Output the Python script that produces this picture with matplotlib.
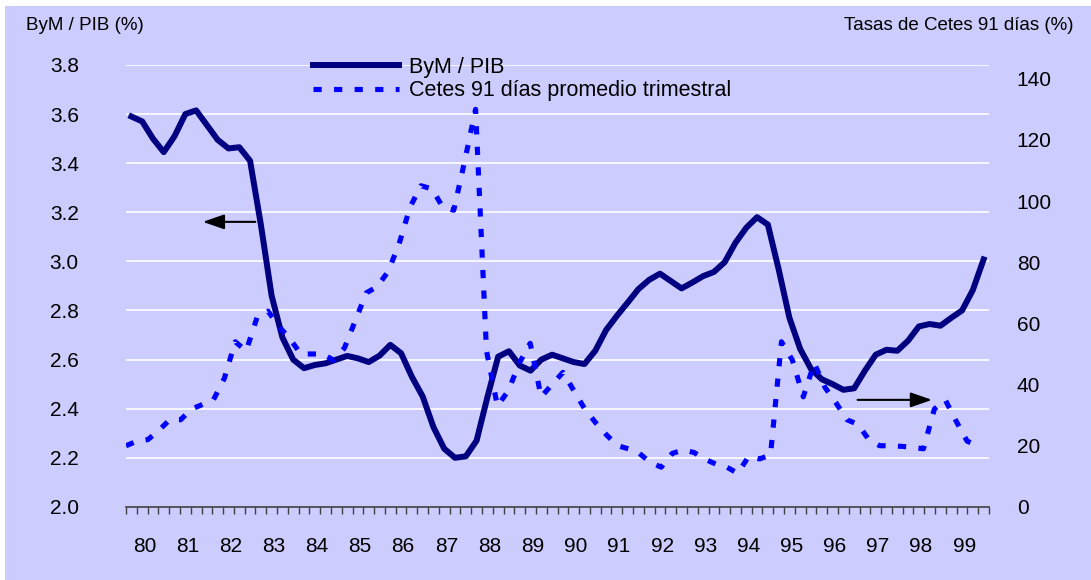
import matplotlib
matplotlib.use("Agg")
import matplotlib.pyplot as plt
from matplotlib.patches import Rectangle
import numpy as np

plt.rcParams['font.family'] = ['Liberation Sans', 'DejaVu Sans']

# trimestral 1980-I .. 1999-IV
bym_pib = [3.59, 3.57, 3.50, 3.445, 3.51, 3.60, 3.615, 3.555, 3.495, 3.46,
           3.465, 3.41, 3.15, 2.86, 2.69, 2.60, 2.565, 2.578, 2.585, 2.60,
           2.615, 2.605, 2.59, 2.616, 2.66, 2.626, 2.53, 2.45, 2.325, 2.237,
           2.20, 2.206, 2.27, 2.447, 2.612, 2.634, 2.576, 2.555, 2.60, 2.62,
           2.605, 2.59, 2.582, 2.636, 2.72, 2.778, 2.832, 2.887, 2.925, 2.95,
           2.92, 2.89, 2.914, 2.94, 2.957, 2.997, 3.076, 3.137, 3.18, 3.15,
           2.968, 2.77, 2.643, 2.562, 2.52, 2.50, 2.477, 2.483, 2.555, 2.62,
           2.64, 2.636, 2.677, 2.735, 2.745, 2.738, 2.77, 2.80, 2.883, 3.008]

# Cetes 91 dias, promedio trimestral 1980-I .. 1999-III
cetes = [20, 21.5, 22, 25, 28.5, 28.5, 32, 33.5, 35, 42,
         54, 51, 62, 64, 59, 55, 50, 50, 50, 48,
         52, 61, 70, 72, 77, 86, 98, 105, 104, 98,
         97, 113, 130, 51, 33, 38, 47, 53.5, 36, 40,
         44, 38, 32, 27.5, 23.5, 20, 19, 17.5, 14.5, 13,
         17.5, 18.6, 17.8, 15.6, 14, 13, 11, 16.5, 15.7, 17,
         54, 48, 36, 47, 39, 34, 28.5, 27, 22, 20,
         20, 19.8, 19.5, 19, 32, 35, 28, 21.5, 20]

years = ['80', '81', '82', '83', '84', '85', '86', '87', '88', '89',
         '90', '91', '92', '93', '94', '95', '96', '97', '98', '99']

bg = '#CCCCFF'
n_q = len(bym_pib)
x_bym = np.arange(n_q) + 0.5
x_cetes = np.arange(len(cetes)) * n_q / (len(cetes))

fig = plt.figure(figsize=(10.91, 5.80), dpi=100, facecolor='white')
fig.patches.append(Rectangle((5 / 1091, 0), 1, 1 - 6 / 580,
                             transform=fig.transFigure, facecolor=bg,
                             edgecolor='none', zorder=-10))
ax = fig.add_axes([0.1155, 0.126, 0.791, 0.762], facecolor=bg)
ax2 = ax.twinx()

for v in np.arange(2.2, 3.81, 0.2):
    ax.axhline(v, color='white', lw=1.2, zorder=0)

l1, = ax.plot(x_bym, bym_pib, color='#000080', lw=4.3, zorder=3,
              label='ByM / PIB')
l2, = ax2.plot(x_cetes, cetes, color='#0000FF', lw=3.7, dashes=(1.6, 2.4),
               label='Cetes 91 días promedio trimestral')

ax.set_xlim(0, n_q)
ax.set_ylim(2.0, 3.8)
ax2.set_ylim(0, 144.5)
ax.set_yticks(np.arange(2.0, 3.81, 0.2))
ax.set_yticklabels([f'{v:.1f}' for v in np.arange(2.0, 3.81, 0.2)])
ax2.set_yticks(np.arange(0, 141, 20))

for a in (ax, ax2):
    for s in ('left', 'right', 'top', 'bottom'):
        a.spines[s].set_visible(False)
ax.spines['bottom'].set_visible(True)
ax.spines['bottom'].set_color('#404040')
ax.spines['bottom'].set_linewidth(1.2)

ax.tick_params(axis='y', length=0, pad=34, labelsize=15)
ax2.tick_params(axis='y', length=0, pad=20, labelsize=15)

ax.set_xticks(np.arange(0, n_q + 1), minor=True)
ax.set_xticks(np.arange(len(years)) * 4 + 1.7)
ax.set_xticklabels(years)
ax.tick_params(axis='x', which='major', length=0, pad=22, labelsize=15)
ax.tick_params(axis='x', which='minor', length=5, width=1, color='#404040',
               direction='out')

fig.text(26 / 1091, 1 - 25 / 580, 'ByM / PIB (%)', fontsize=13.5,
         va='center', ha='left')
fig.text(1073 / 1091, 1 - 25 / 580, 'Tasas de Cetes 91 días (%)',
         fontsize=13.5, va='center', ha='right')

ax.annotate('', xy=(6.86, 3.161), xytext=(12.25, 3.161),
            arrowprops=dict(arrowstyle='-|>,head_length=1.3,head_width=0.45',
                            color='black', lw=1.5))
ax.annotate('', xy=(74.98, 2.436), xytext=(67.56, 2.436),
            arrowprops=dict(arrowstyle='-|>,head_length=1.3,head_width=0.45',
                            color='black', lw=1.5))

leg = ax.legend(handles=[l1, l2], loc='upper left',
                bbox_to_anchor=(313 / 1091, 1 - 57 / 580),
                bbox_transform=fig.transFigure,
                frameon=False, fontsize=15.5, handlelength=4.0,
                handletextpad=0.45, labelspacing=0.1, borderpad=0,
                borderaxespad=0)

fig.savefig('out.png', dpi=100)
